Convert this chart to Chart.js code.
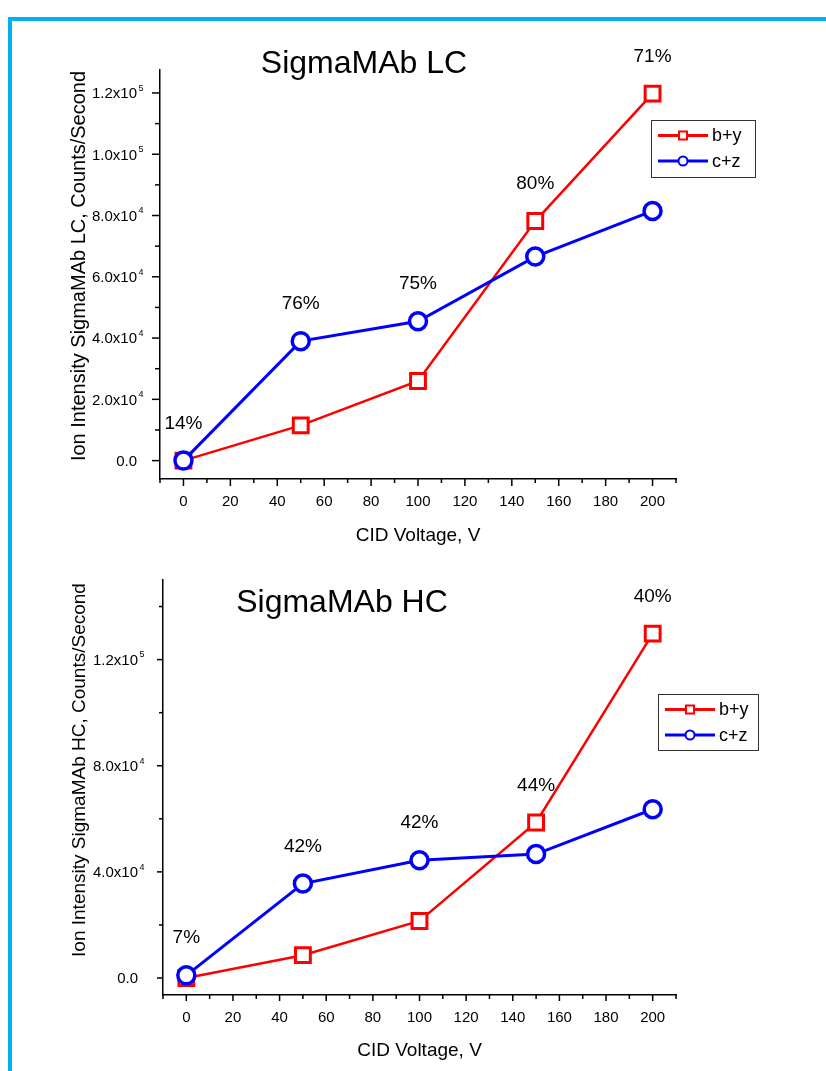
<!DOCTYPE html>
<html>
<head>
<meta charset="utf-8">
<script src="https://cdn.jsdelivr.net/npm/chart.js@4.4.0/dist/chart.umd.min.js"></script>
<style>
html, body { margin: 0; padding: 0; background: #fff; }
body { width: 826px; height: 1071px; position: relative; overflow: hidden; }
#frame { position: absolute; left: 8px; top: 17px; width: 900px; height: 1200px;
  border-top: 4px solid #00b0f0; border-left: 4px solid #00b0f0; }
canvas { position: absolute; left: 0; }
#lc { top: 0; }
#hc { top: 555px; }
</style>
</head>
<body>
<div id="frame"></div>
<canvas id="lc" width="826" height="555"></canvas>
<canvas id="hc" width="826" height="516"></canvas>
<script>
const FONT = "'Liberation Sans', Arial, sans-serif";

// data
const voltages = [0, 50, 100, 150, 200];

const lcBY = [0, 11500, 26000, 78200, 119800];
const lcCZ = [0, 39000, 45500, 66600, 81500];
const lcPct = ['14%', '76%', '75%', '80%', '71%'];

const hcBY = [0, 8600, 21500, 58600, 129800];
const hcCZ = [1000, 35600, 44400, 46700, 63600];
const hcPct = ['7%', '42%', '42%', '44%', '40%'];

// y tick values and their labels (mantissa + exponent)
const lcYTicks = [0, 20000, 40000, 60000, 80000, 100000, 120000];
const lcYText = ['0.0', '2.0x10', '4.0x10', '6.0x10', '8.0x10', '1.0x10', '1.2x10'];
const lcYExp = ['', '4', '4', '4', '4', '5', '5'];

const hcYTicks = [0, 40000, 80000, 120000];
const hcYText = ['0.0', '4.0x10', '8.0x10', '1.2x10'];
const hcYExp = ['', '4', '4', '5'];

const seriesNames = ['b+y', 'c+z'];
const seriesColors = ['#ff0000', '#0000ff'];

Chart.defaults.font.family = FONT;
Chart.defaults.color = '#000';

// ticks, y labels, titles, % labels and legend box
const decor = {
  id: 'decor',
  afterDraw(chart) {
    const o = chart.options.plugins.decor;
    const ctx = chart.ctx;
    const xs = chart.scales.x, ys = chart.scales.y;
    const a = chart.chartArea;
    ctx.save();
    ctx.strokeStyle = '#000';
    ctx.fillStyle = '#000';
    ctx.lineWidth = 1.5;

    xs.ticks.forEach(t => {
      const px = xs.getPixelForValue(t.value);
      const major = t.value >= 0 && t.value <= 200 && t.value % 20 === 0;
      const len = major ? o.xTick[0] : o.xTick[1];
      ctx.beginPath();
      ctx.moveTo(px, a.bottom);
      ctx.lineTo(px, a.bottom + len);
      ctx.stroke();
    });

    o.yTicks.forEach((v, i) => {
      const py = ys.getPixelForValue(v);
      ctx.beginPath();
      ctx.moveTo(a.left, py);
      ctx.lineTo(a.left - o.yTick[0], py);
      ctx.stroke();
      const mid = v + o.yStep / 2;
      if (mid <= ys.max) {
        const pm = ys.getPixelForValue(mid);
        ctx.beginPath();
        ctx.moveTo(a.left, pm);
        ctx.lineTo(a.left - o.yTick[1], pm);
        ctx.stroke();
      }
      const rx = a.left - o.yLabelGap;
      ctx.font = '15px ' + FONT;
      ctx.textAlign = 'right';
      ctx.textBaseline = 'alphabetic';
      ctx.fillText(o.yText[i], rx, py + 5.4);
      if (o.yExp[i]) {
        ctx.font = '9px ' + FONT;
        ctx.textAlign = 'left';
        ctx.fillText(o.yExp[i], rx + 1.5, py - 2.2);
      }
    });

    // rotated y axis title
    ctx.save();
    ctx.translate(o.yTitlePos[0], o.yTitlePos[1]);
    ctx.rotate(-Math.PI / 2);
    ctx.font = o.yTitleSize + 'px ' + FONT;
    ctx.textAlign = 'center';
    ctx.textBaseline = 'alphabetic';
    ctx.fillText(o.yTitle, 0, 0);
    ctx.restore();

    // chart title
    ctx.font = '32px ' + FONT;
    ctx.textAlign = 'center';
    ctx.textBaseline = 'alphabetic';
    ctx.fillText(o.title, o.titlePos[0], o.titlePos[1]);

    // percentage labels above each voltage
    ctx.font = '19px ' + FONT;
    o.pct.forEach((txt, j) => {
      const pts = chart.data.datasets.map((d, k) => chart.getDatasetMeta(k).data[j]);
      const px = pts[0].x;
      const py = Math.min(...pts.map(p => p.y));
      ctx.fillText(txt, px, py - 32);
    });

    // legend
    const [bx, by, bw, bh] = o.legendBox;
    ctx.lineWidth = 1;
    ctx.strokeStyle = '#333';
    ctx.strokeRect(bx + 0.5, by + 0.5, bw, bh);
    seriesNames.forEach((name, k) => {
      const ly = by + 15.5 + k * 25.5;
      ctx.strokeStyle = seriesColors[k];
      ctx.lineWidth = 3;
      ctx.beginPath();
      ctx.moveTo(bx + 7, ly);
      ctx.lineTo(bx + 57, ly);
      ctx.stroke();
      ctx.fillStyle = '#fff';
      ctx.lineWidth = 2;
      ctx.beginPath();
      if (k === 0) ctx.rect(bx + 28, ly - 4, 8, 8);
      else ctx.arc(bx + 32, ly, 4.5, 0, Math.PI * 2);
      ctx.fill();
      ctx.stroke();
      ctx.fillStyle = '#000';
      ctx.font = '18px ' + FONT;
      ctx.textAlign = 'left';
      ctx.textBaseline = 'middle';
      ctx.fillText(name, bx + 61, ly + 1);
    });
    ctx.restore();
  }
};

function makeChart(id, by, cz, cfg) {
  const toPts = arr => voltages.map((v, i) => ({ x: v, y: arr[i] }));
  return new Chart(document.getElementById(id), {
    type: 'line',
    data: {
      datasets: [
        {
          label: seriesNames[0],
          data: toPts(by),
          borderColor: seriesColors[0],
          borderWidth: 2.5,
          pointStyle: 'rect',
          pointRadius: 10.5,
          pointBorderWidth: 3,
          pointBorderColor: seriesColors[0],
          pointBackgroundColor: '#fff',
          order: 1,
          clip: false
        },
        {
          label: seriesNames[1],
          data: toPts(cz),
          borderColor: seriesColors[1],
          borderWidth: 3,
          pointStyle: 'circle',
          pointRadius: 8.5,
          pointBorderWidth: 3.5,
          pointBorderColor: seriesColors[1],
          pointBackgroundColor: '#fff',
          order: 0,
          clip: false
        }
      ]
    },
    options: {
      responsive: false,
      animation: false,
      events: [],
      layout: { padding: { left: 0, top: cfg.top, right: 150, bottom: 0 } },
      scales: {
        x: {
          type: 'linear',
          min: -10,
          max: 210,
          afterFit: s => { s.height = 76; },
          grid: { display: false, drawTicks: false },
          border: { display: true, color: '#000', width: 1.5 },
          ticks: {
            stepSize: 10,
            autoSkip: false,
            maxRotation: 0,
            padding: 14,
            font: { size: 15 },
            color: '#000',
            callback: v => (v >= 0 && v <= 200 && v % 20 === 0) ? String(v) : ''
          },
          title: {
            display: true,
            text: 'CID Voltage, V',
            color: '#000',
            font: { size: 19 },
            padding: { top: 0, bottom: cfg.xTitlePad }
          }
        },
        y: {
          type: 'linear',
          min: cfg.yMin,
          max: cfg.yMax,
          afterFit: s => { s.width = cfg.left; },
          grid: { display: false, drawTicks: false },
          border: { display: true, color: '#000', width: 1.5 },
          ticks: { display: false }
        }
      },
      plugins: {
        legend: { display: false },
        tooltip: { enabled: false },
        decor: cfg.decor
      }
    },
    plugins: [decor]
  });
}

makeChart('lc', lcBY, lcCZ, {
  top: 70, left: 160, yMin: -6000, yMax: 127500, xTitlePad: 8,
  decor: {
    title: 'SigmaMAb LC', titlePos: [364, 73],
    yTitle: 'Ion Intensity SigmaMAb LC, Counts/Second', yTitleSize: 20, yTitlePos: [85, 266],
    yTicks: lcYTicks, yText: lcYText, yExp: lcYExp, yStep: 20000,
    yTick: [8, 5], xTick: [7, 4], yLabelGap: 23,
    pct: lcPct, legendBox: [651, 120, 104, 57]
  }
});

makeChart('hc', hcBY, hcCZ, {
  top: 25, left: 163, yMin: -6400, yMax: 150000, xTitlePad: 9,
  decor: {
    title: 'SigmaMAb HC', titlePos: [342, 57],
    yTitle: 'Ion Intensity SigmaMAb HC, Counts/Second', yTitleSize: 19, yTitlePos: [85, 215],
    yTicks: hcYTicks, yText: hcYText, yExp: hcYExp, yStep: 40000,
    yTick: [6, 4], xTick: [6, 4], yLabelGap: 25,
    pct: hcPct, legendBox: [658, 139, 100, 56]
  }
});
</script>
</body>
</html>
